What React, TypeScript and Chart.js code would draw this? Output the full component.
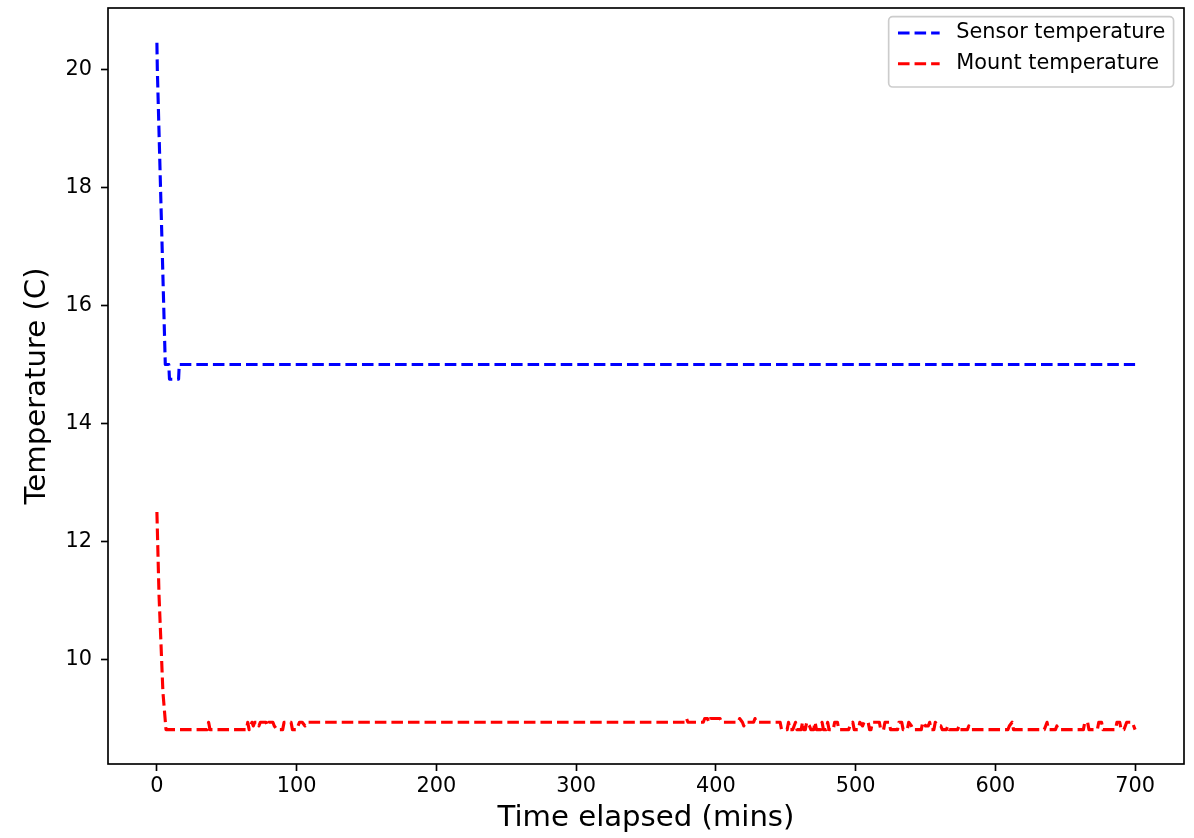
import React, { useEffect, useRef } from "react";
import { Chart, registerables } from "chart.js";

Chart.register(...registerables);

// ---- data ----
const xTickValues = [0, 100, 200, 300, 400, 500, 600, 700];
const yTickValues = [10, 12, 14, 16, 18, 20];
const xAxisRange = [-35, 735];
const yAxisRange = [8.23, 21.04];

const sensorLabel = "Sensor temperature";
const mountLabel = "Mount temperature";

// [minutes elapsed, temperature °C]
const sensorReadings: [number, number][] = [
  [0, 20.45], [0.3, 20.0], [6, 15.0], [8.5, 15.0], [9, 14.75],
  [15.5, 14.75], [16, 15.0], [700, 15.0],
];

const mountReadings: [number, number][] = [
  [0, 12.5], [1.5, 11.1], [4.3, 9.45], [6.5, 8.8125],
  [36, 8.8125], [37, 8.9375], [38, 8.8125],
  [64, 8.8125], [65, 8.9375], [66, 8.8125],
  [67, 8.875], [68, 8.9375], [69, 8.875], [70, 8.9375], [72, 8.9375], [73, 8.875],
  [74, 8.9375], [78, 8.9375], [79, 8.875], [80, 8.9375], [83, 8.9375], [84, 8.875],
  [86, 8.8125], [90, 8.8125], [91, 8.9375], [96, 8.9375], [97, 8.8125], [100, 8.8125],
  [101, 8.875], [102, 8.9375], [104, 8.9375], [106, 8.875], [108, 8.9375],
  [378, 8.9375], [379, 9.0], [380, 8.9375],
  [391, 8.9375], [392, 9.0], [394, 9.0], [395, 8.9375], [396, 9.0], [403, 9.0], [404, 8.9375],
  [416, 8.9375], [417, 9.0], [419, 8.9375], [420, 8.875], [421, 8.9375],
  [427, 8.9375], [428, 9.0], [429, 8.9375],
  [446, 8.9375], [447, 8.8125],
  [451, 8.8125], [452, 8.9375], [453, 8.8125],
  [455, 8.8125], [456, 8.875], [457, 8.9375], [458, 8.8125],
  [461, 8.8125], [462, 8.9375], [463, 8.8125],
  [464, 8.8125], [465, 8.9375], [467, 8.875], [468, 8.8125],
  [470, 8.8125], [471, 8.9375], [472, 8.8125],
  [475, 8.8125], [476, 8.9375], [477, 8.8125],
  [479, 8.8125], [480, 8.9375], [481, 8.8125],
  [484, 8.8125], [485, 8.9375], [487, 8.9375], [488, 8.8125],
  [495, 8.8125], [496, 8.875], [498, 8.9375], [499, 8.8125],
  [502, 8.8125], [503, 8.9375], [505, 8.875], [506, 8.9375], [509, 8.9375], [510, 8.8125],
  [511, 8.8125], [512, 8.9375], [517, 8.9375], [518, 8.8125],
  [520, 8.8125], [521, 8.9375], [524, 8.9375], [525, 8.8125],
  [530, 8.8125], [531, 8.9375], [533, 8.9375], [534, 8.8125],
  [537, 8.8125], [538, 8.9375], [540, 8.875], [541, 8.8125],
  [547, 8.8125], [548, 8.9375], [550, 8.875], [552, 8.875], [553, 8.9375], [554, 8.8125],
  [556, 8.8125], [557, 8.9375], [559, 8.875], [561, 8.875], [562, 8.8125],
  [565, 8.8125], [566, 8.875], [567, 8.8125],
  [573, 8.8125], [574, 8.875], [575, 8.8125],
  [580, 8.8125], [581, 8.875], [582, 8.8125],
  [609, 8.8125], [610, 8.875], [612, 8.9375], [613, 8.8125],
  [635, 8.8125], [636, 8.875], [637, 8.9375], [638, 8.8125],
  [643, 8.8125], [644, 8.875], [645, 8.8125],
  [663, 8.8125], [664, 8.9375], [666, 8.9375], [667, 8.8125],
  [673, 8.8125], [674, 8.9375], [676, 8.9375], [677, 8.8125],
  [686, 8.8125], [687, 8.9375], [689, 8.9375], [690, 8.8125],
  [692, 8.8125], [693, 8.875], [694, 8.9375], [698, 8.9375], [699, 8.875], [700, 8.8125],
];

// ---- styling ----
const FONT = "DejaVu Sans";
const PT = 150 / 72; // px per point
const LINE_W = 1.5 * PT;
const DASH = [3.7 * 1.5 * PT, 1.6 * 1.5 * PT];

const framePlugin = {
  id: "mplFrame",
  afterDatasetsDraw(chart: any) {
    const { ctx, chartArea } = chart;
    ctx.save();
    ctx.strokeStyle = "#000";
    ctx.lineWidth = 0.8 * PT;
    ctx.strokeRect(chartArea.left, chartArea.top, chartArea.right - chartArea.left, chartArea.bottom - chartArea.top);
    ctx.restore();
  },
};

const legendPlugin = {
  id: "mplLegend",
  afterDraw(chart: any) {
    const { ctx, chartArea } = chart;
    const fontPx = 10 * PT;
    ctx.save();
    ctx.font = `${fontPx}px "${FONT}"`;
    const datasets = chart.data.datasets;
    const textW = Math.max(...datasets.map((d: any) => ctx.measureText(d.label).width));
    const pad = 0.4 * fontPx;
    const handleLen = 2 * fontPx;
    const handlePad = 0.8 * fontPx;
    const w = pad + handleLen + handlePad + textW + pad + 1;
    const h = 70.3;
    const right = chartArea.right - 0.5 * fontPx;
    const left = right - w;
    const top = chartArea.top + 8.7;
    ctx.beginPath();
    ctx.roundRect(left, top, w, h, 4);
    ctx.fillStyle = "rgba(255,255,255,0.8)";
    ctx.fill();
    ctx.strokeStyle = "#cccccc";
    ctx.lineWidth = 0.8 * PT;
    ctx.stroke();
    datasets.forEach((d: any, i: number) => {
      const y = top + 16.3 + i * 30.7;
      const hx = left + pad + 1;
      ctx.beginPath();
      ctx.setLineDash(DASH);
      ctx.lineWidth = LINE_W;
      ctx.strokeStyle = d.borderColor;
      ctx.moveTo(hx, y);
      ctx.lineTo(hx + handleLen, y);
      ctx.stroke();
      ctx.setLineDash([]);
      ctx.fillStyle = "#000";
      ctx.textAlign = "left";
      ctx.textBaseline = "middle";
      ctx.fillText(d.label, hx + handleLen + handlePad, y);
    });
    ctx.restore();
  },
};

export default function App() {
  const ref = useRef<HTMLCanvasElement>(null);

  useEffect(() => {
    if (!ref.current) return;
    const tickFont = { family: FONT, size: 10 * PT };
    const titleFont = { family: FONT, size: 14 * PT };
    const chart = new Chart(ref.current, {
      type: "scatter",
      data: {
        datasets: [
          {
            label: sensorLabel,
            data: sensorReadings.map(([x, y]) => ({ x, y })),
            borderColor: "#0000ff",
            backgroundColor: "#0000ff",
            showLine: true,
            borderWidth: LINE_W,
            borderDash: DASH,
            borderCapStyle: "butt",
            borderJoinStyle: "round",
            pointRadius: 0,
            pointHoverRadius: 0,
          },
          {
            label: mountLabel,
            data: mountReadings.map(([x, y]) => ({ x, y })),
            borderColor: "#ff0000",
            backgroundColor: "#ff0000",
            showLine: true,
            borderWidth: LINE_W,
            borderDash: DASH,
            borderCapStyle: "butt",
            borderJoinStyle: "round",
            pointRadius: 0,
            pointHoverRadius: 0,
          },
        ],
      },
      options: {
        animation: false,
        responsive: false,
        events: [],
        layout: { padding: { top: 8, right: 10, bottom: 0, left: 0 } },
        plugins: {
          legend: { display: false },
          tooltip: { enabled: false },
        },
        scales: {
          x: {
            type: "linear",
            min: xAxisRange[0],
            max: xAxisRange[1],
            afterBuildTicks: (scale: any) => {
              scale.ticks = xTickValues.map((v) => ({ value: v }));
            },
            afterFit: (scale: any) => {
              scale.height = 74;
              scale.paddingLeft = 0;
              scale.paddingRight = 0;
            },
            ticks: {
              font: tickFont,
              color: "#000",
              padding: 3,
              maxRotation: 0,
              autoSkip: false,
              callback: (v: any) => String(v),
            },
            grid: {
              display: true,
              drawOnChartArea: false,
              drawTicks: true,
              tickLength: 7,
              tickWidth: 0.8 * PT,
              tickColor: "#000",
            },
            border: { display: false },
            title: {
              display: true,
              text: "Time elapsed (mins)",
              font: titleFont,
              color: "#000",
              padding: { top: 0, bottom: 1.6 },
            },
          },
          y: {
            type: "linear",
            min: yAxisRange[0],
            max: yAxisRange[1],
            afterBuildTicks: (scale: any) => {
              scale.ticks = yTickValues.map((v) => ({ value: v }));
            },
            afterFit: (scale: any) => {
              scale.width = 108;
              scale.paddingTop = 0;
              scale.paddingBottom = 0;
            },
            ticks: {
              font: tickFont,
              color: "#000",
              padding: 9,
              autoSkip: false,
              callback: (v: any) => String(v),
            },
            grid: {
              display: true,
              drawOnChartArea: false,
              drawTicks: true,
              tickLength: 7,
              tickWidth: 0.8 * PT,
              tickColor: "#000",
            },
            border: { display: false },
            title: {
              display: true,
              text: "Temperature (C)",
              font: titleFont,
              color: "#000",
              padding: { top: 19.5, bottom: 0 },
            },
          },
        },
      } as any,
      plugins: [framePlugin, legendPlugin],
    });
    return () => chart.destroy();
  }, []);

  return (
    <div style={{ position: "absolute", left: 0, top: 0, width: 1194, height: 838, background: "#fff" }}>
      <canvas ref={ref} width={1194} height={838} style={{ display: "block" }} />
    </div>
  );
}
